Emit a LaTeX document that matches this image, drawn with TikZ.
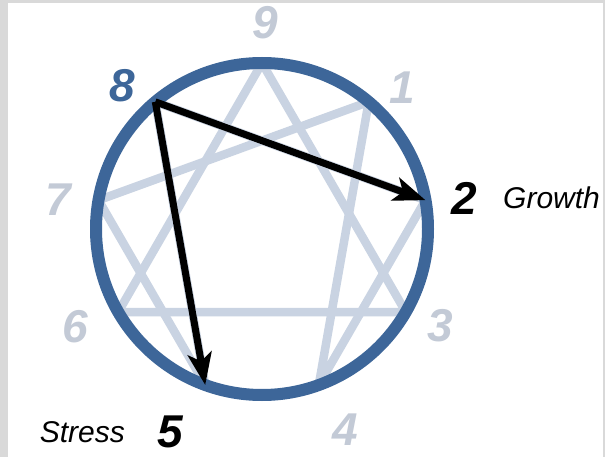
\documentclass[tikz,border=0pt]{standalone}
\usepackage{fontspec}
\setmainfont{Liberation Sans}
\usetikzlibrary{arrows.meta, positioning, calc}
\definecolor{ennblue}{HTML}{3D6699}
\definecolor{ennline}{HTML}{C9D3E2}
\definecolor{enndigit}{HTML}{C3CAD6}
\definecolor{ennframe}{HTML}{D9D9D9}

\begin{document}
\begin{tikzpicture}[
    x=1pt, y=-1pt,
    digit/.style={font=\fontsize{46}{46}\selectfont\bfseries\itshape, text=enndigit, inner sep=0pt},
    word/.style={font=\fontsize{30}{30}\selectfont\itshape, inner sep=0pt},
    star/.style={ennline, line width=8.5pt},
    ring/.style={ennblue, line width=12pt},
    arrow/.style={-{Stealth[length=32pt, width=24pt, inset=8pt]}, line width=7pt, black}
]
% frame
\fill[ennframe] (0,0) rectangle (605,457);
\fill[white] (8,3) rectangle (603,457);
\useasboundingbox (0,0) rectangle (605,457);

\coordinate (c) at (262,229);
\foreach \n/\a in {9/-90, 1/-50, 2/-10, 3/30, 4/70, 5/110, 6/150, 7/190, 8/230}
    \coordinate (p\n) at ($(c)+(\a:166)$);

% inner lines, cut off at the ring
\begin{scope}
\clip (c) circle[radius=166];
\draw[star] (p9) -- (p3) -- (p6) -- cycle;
\draw[star] (p1) -- (p4) -- (p2) -- (p8) -- (p5) -- (p7) -- cycle;
\end{scope}

\draw[ring] (c) circle[radius=166];

% numbers
\node[digit] (l9) at (265,23) {9};
\node[digit] (l1) at (402,88) {1};
\node[digit, text=black] (l2) at (464,198) {2};
\node[digit] (l3) at (440,326) {3};
\node[digit] (l4) at (345,430) {4};
\node[digit, text=black] (l5) at (170,432) {5};
\node[digit] (l6) at (75,327) {6};
\node[digit] (l7) at (58,200) {7};
\node[digit, text=ennblue] (l8) at (122,86) {8};

\node[word, right=26pt of l2] (growth) {Growth};
\node[word, left=32pt of l5] (stress) {Stress};

\draw[arrow] (p8) -- (p2);
\draw[arrow] (p8) -- (p5);
\end{tikzpicture}
\end{document}
